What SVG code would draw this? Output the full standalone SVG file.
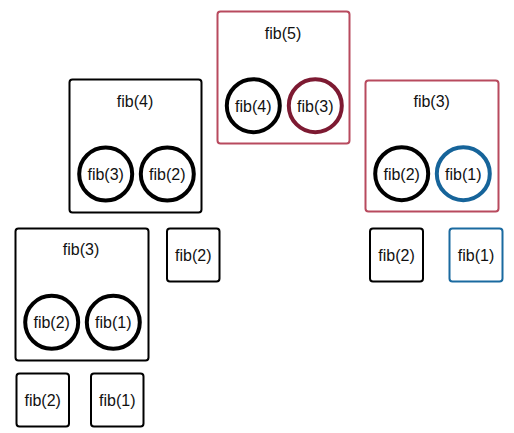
<svg xmlns="http://www.w3.org/2000/svg" width="514" height="433" viewBox="0 0 514 433">
<style>
text{font-family:"Liberation Sans",Arial,sans-serif;font-size:16px;fill:#111;text-anchor:middle;dominant-baseline:central}
.box{fill:#fff;stroke:#000;stroke-width:2}
.red{stroke:#b84a5e}
.blue{stroke:#1a6aa0}
.c{fill:#fff;stroke:#000;stroke-width:4}
.cr{stroke:#7d1a32}
.cb{stroke:#16649a}
</style>
<rect width="514" height="433" fill="#fff"/>
<g id="connectors"></g>
<g id="fib5">
<rect class="box red" x="217.5" y="11.5" width="132" height="132" rx="3"/>
<text x="283" y="33">fib(5)</text>
<circle class="c" cx="253.3" cy="105.7" r="26.5"/>
<text x="253.3" y="106">fib(4)</text>
<circle class="c cr" cx="315.3" cy="105.7" r="26.5"/>
<text x="315.3" y="106">fib(3)</text>
</g>
<g id="fib4">
<rect class="box" x="69.5" y="79.5" width="132" height="133" rx="3"/>
<text x="135" y="101">fib(4)</text>
<circle class="c" cx="105.7" cy="174" r="26.5"/>
<text x="105.7" y="174.3">fib(3)</text>
<circle class="c" cx="167.3" cy="174" r="26.5"/>
<text x="167.3" y="174.3">fib(2)</text>
</g>
<g id="fib3r">
<rect class="box red" x="365.5" y="80.5" width="133" height="131" rx="3"/>
<text x="431.7" y="101">fib(3)</text>
<circle class="c" cx="401.7" cy="173.7" r="26.5"/>
<text x="401.7" y="174">fib(2)</text>
<circle class="c cb" cx="463.3" cy="173.7" r="26.5"/>
<text x="463.3" y="174">fib(1)</text>
</g>
<g id="fib3l">
<rect class="box" x="15.5" y="228.5" width="133" height="132" rx="3"/>
<text x="81" y="249.5">fib(3)</text>
<circle class="c" cx="51.7" cy="322.3" r="26.5"/>
<text x="51.7" y="322.6">fib(2)</text>
<circle class="c" cx="113.3" cy="322.3" r="26.5"/>
<text x="113.3" y="322.6">fib(1)</text>
</g>
<g id="fib2a">
<rect class="box" x="167" y="228.5" width="52.5" height="53" rx="3"/>
<text x="193.3" y="255">fib(2)</text>
</g>
<g id="fib2b">
<rect class="box" x="370" y="228.5" width="53" height="53" rx="3"/>
<text x="396.5" y="255">fib(2)</text>
</g>
<g id="fib1a">
<rect class="box blue" x="449.5" y="228.5" width="53" height="53" rx="3"/>
<text x="476" y="255">fib(1)</text>
</g>
<g id="fib2c">
<rect class="box" x="16.5" y="373.5" width="52.5" height="53" rx="3"/>
<text x="42.7" y="400">fib(2)</text>
</g>
<g id="fib1b">
<rect class="box" x="91" y="373.5" width="52.5" height="53" rx="3"/>
<text x="117.3" y="400">fib(1)</text>
</g>
</svg>
